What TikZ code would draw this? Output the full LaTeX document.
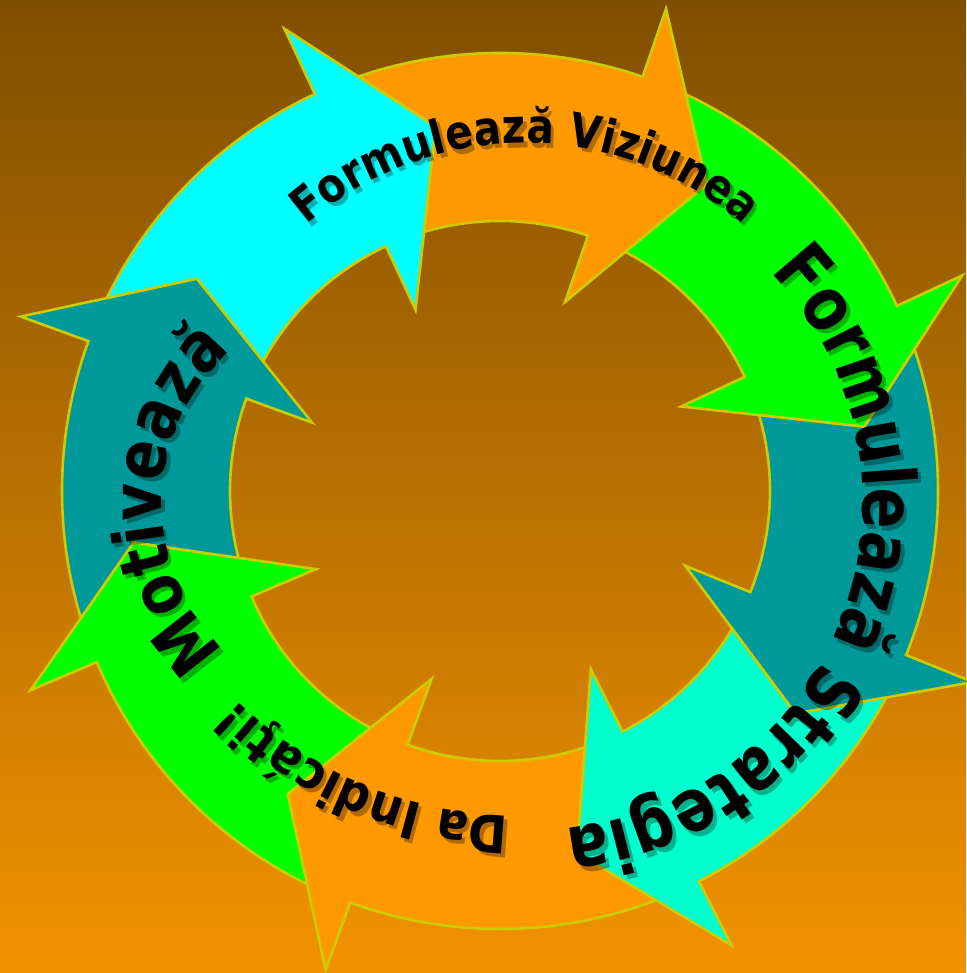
\documentclass[tikz,border=0pt]{standalone}
\usepackage{fontspec}
\usetikzlibrary{decorations.text}
\newfontfamily\fTop{DejaVu Sans Bold}[FakeStretch=0.865]
\newfontfamily\fRight{DejaVu Sans Bold}[FakeStretch=0.82]
\newfontfamily\fLeft{DejaVu Sans Bold}[FakeStretch=0.835]
\newfontfamily\fBottom{DejaVu Sans Bold}[FakeStretch=0.896]
\definecolor{bgtop}{HTML}{7F4F00}
\definecolor{bgbot}{HTML}{F29200}
\definecolor{cCyan}{HTML}{00FFFF}
\definecolor{cOrange}{HTML}{FF9900}
\definecolor{cGreen}{HTML}{00FF00}
\definecolor{cTeal}{HTML}{009999}
\definecolor{cAqua}{HTML}{00FFCC}
\definecolor{rim}{HTML}{CCCC00}
\tikzset{
  arrowshape/.style={draw=rim, line width=2.6pt, line join=miter},
}
% #1 previous head angle, #2 own head angle, #3 colour
\newcommand\ringarrow[3]{%
  \filldraw[arrowshape, fill=#3]
    ({#1-6.13}:438) arc[start angle={#1-6.13}, end angle={#2}, radius=438]
    -- (#2:510) -- ({#2-15}:370) -- (#2:200) -- (#2:270)
    arc[start angle={#2}, end angle={#1-8.67}, radius=270]
    -- ({#1-15}:370) -- cycle;}
% one copy of a curved text: #1 centre, #2 baseline radius, #3 mid angle,
% #4 half span, #5 font switch and size, #6 text
\newcommand\arcpass[6]{%
  \path[shift={#1}, decorate, decoration={text along path, text align=center,
    text color=black, text={|#5|#6}}]
    ({#3+#4}:#2) arc[start angle={#3+#4}, end angle={#3-#4}, radius=#2];}
\newcommand\arctext[6]{%
  \begin{scope}[shift={(3.5,-4.5)}, opacity=0.3]\arcpass{#1}{#2}{#3}{#4}{#5}{#6}\end{scope}%
  \arcpass{#1}{#2}{#3}{#4}{#5}{#6}}
\begin{document}
\begin{tikzpicture}[x=1pt, y=1pt]
  \useasboundingbox (0,0) rectangle (966,973);
  \shade[top color=bgtop, bottom color=bgbot] (0,0) rectangle (966,973);
  \begin{scope}[shift={(500,482)}]
    \ringarrow{160}{115}{cCyan}
    \ringarrow{115}{71}{cOrange}
    \ringarrow{71}{25}{cGreen}
    \ringarrow{25}{-22}{cTeal}
    \ringarrow{-22}{-63}{cAqua}
    \ringarrow{-63}{-110}{cOrange}
    \ringarrow{-110}{-157}{cGreen}
    \ringarrow{-157}{-200}{cTeal}
  \end{scope}
  \arctext{(525,497)}{333}{90}{60}{\fTop\fontsize{47}{47}\selectfont}{Formulează Viziunea}
  \arctext{(534,472)}{329}{-20.2}{85}{\fRight\fontsize{74}{74}\selectfont}{Formulează Strategia}
  \arctext{(365,470)}{203}{178.9}{70}{\fLeft\fontsize{70}{70}\selectfont}{Motivează}
  \arctext{(520,563)}{406}{246.9}{40}{\fBottom\fontsize{52}{52}\selectfont}{Da Indicáţi!}
\end{tikzpicture}
\end{document}
